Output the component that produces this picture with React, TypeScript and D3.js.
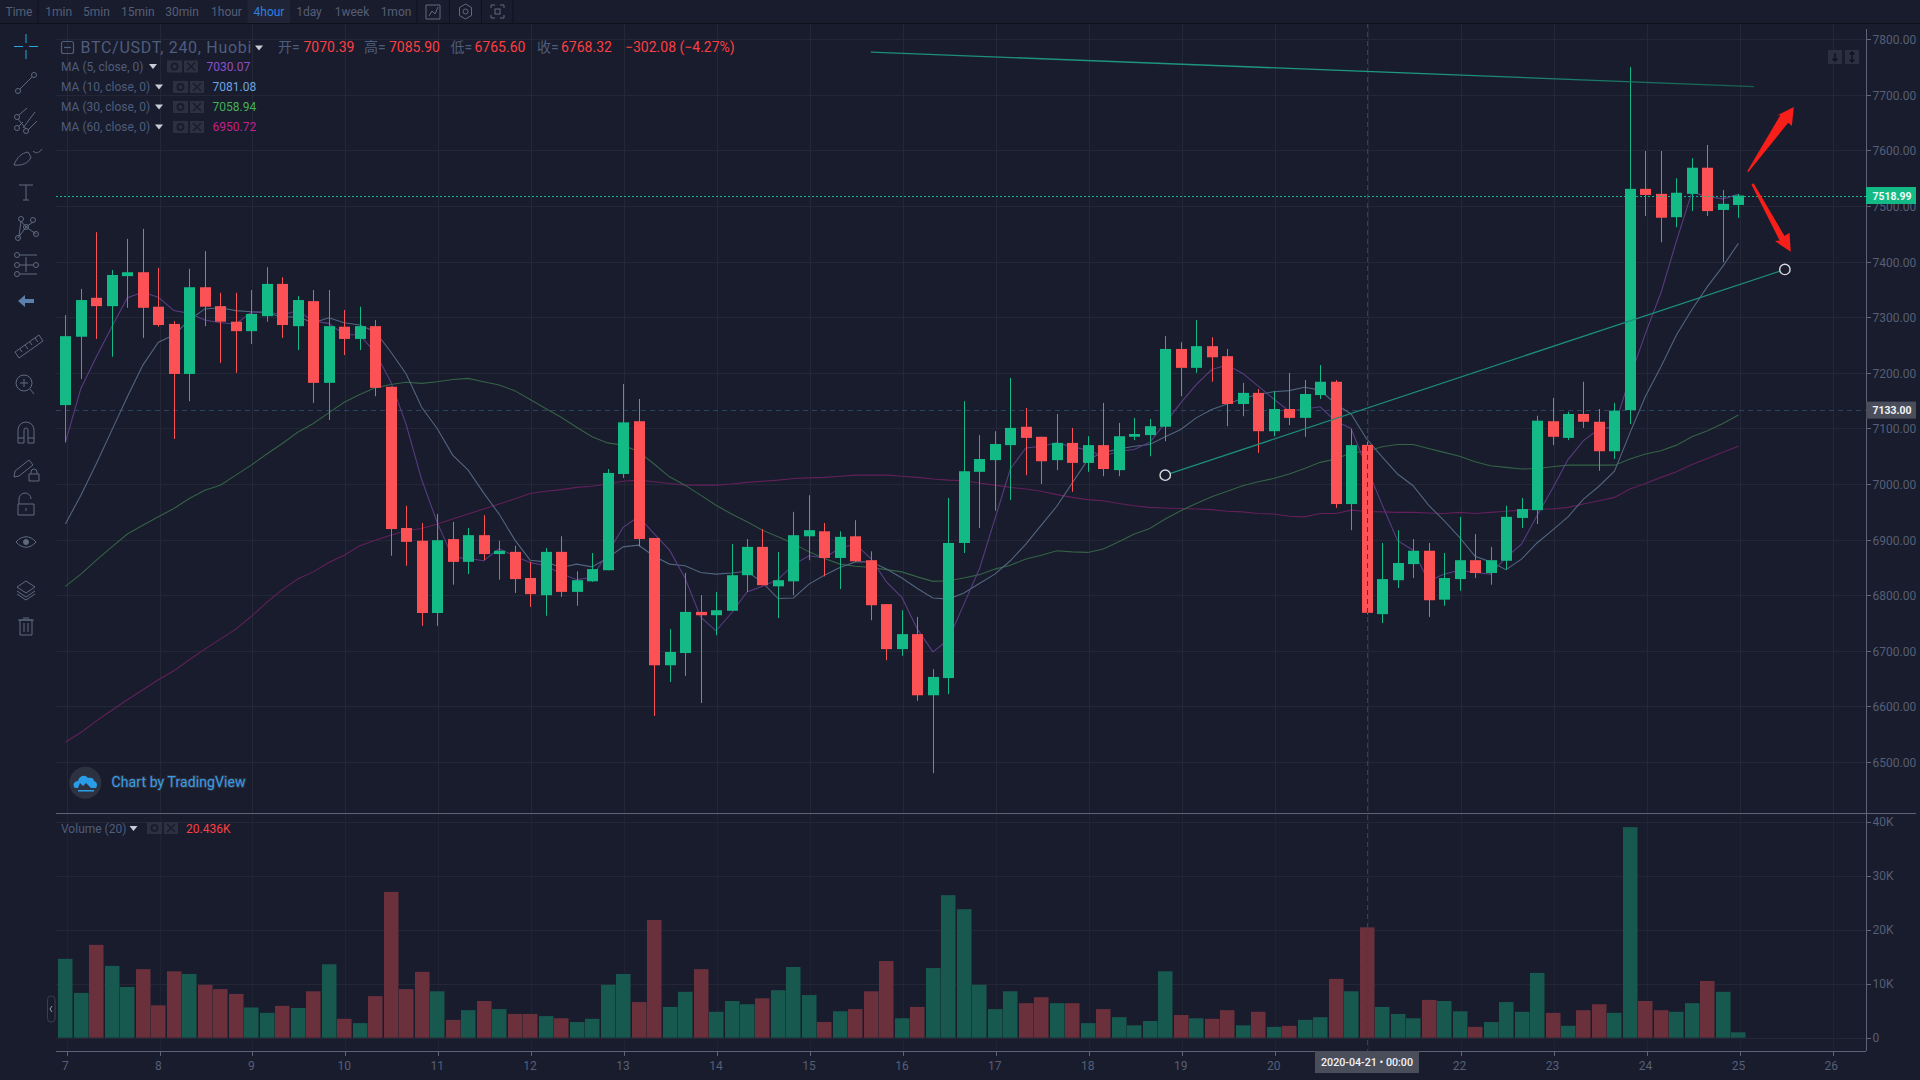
import React from "react";
import * as d3 from "d3";

const opens = [7142,7265,7335,7320,7374,7381,7319,7288,7198,7354,7320,7292,7275,7302,7360,7284,7329,7182,7283,7261,7284,7175,6921,6898,6768,6901,6860,6908,6874,6878,6831,6800,6878,6806,6825,6845,7018,7113,6903,6674,6696,6770,6764,6772,6836,6887,6816,6825,6906,6915,6867,6906,6863,6784,6703,6730,6620,6651,6894,7022,7043,7070,7103,7085,7043,7074,7038,7070,7025,7085,7088,7103,7243,7209,7248,7230,7144,7164,7095,7135,7119,7160,7184,6964,7070.39,6766,6827,6856,6880,6792,6829,6863,6840,6862,6939,6953,7113,7083,7126,7112,7059,7133,7531,7522,7480,7522,7569,7493,7502];
const closes = [7266,7331,7320,7376,7381,7317,7286,7198,7354,7319,7292,7275,7306,7360,7286,7331,7182,7284,7261,7284,7173,6919,6896,6768,6899,6860,6908,6874,6880,6829,6802,6878,6806,6827,6847,7020,7111,6901,6674,6698,6770,6764,6773,6836,6887,6818,6827,6908,6917,6867,6905,6861,6782,6703,6730,6620,6653,6894,7023,7045,7072,7101,7083,7041,7074,7038,7070,7027,7086,7090,7104,7243,7209,7248,7228,7144,7164,7095,7135,7119,7162,7184,6964,7070,6768.32,6829,6858,6880,6791,6831,6863,6840,6863,6941,6955,7114,7085,7126,7112,7059,7132,7531,7520,7479,7524,7569,7491,7504,7518.99];
const highs = [7304,7351,7453,7385,7441,7459,7389,7293,7387,7419,7344,7344,7349,7390,7372,7338,7349,7349,7313,7319,7295,7175,6961,6930,6946,6932,6921,6944,6898,6889,6860,6885,6906,6843,6876,7027,7180,7153,6903,6739,6840,6800,6806,6892,6901,6919,6878,6950,6980,6930,6915,6935,6879,6784,6773,6761,6667,6975,7149,7088,7095,7191,7137,7085,7126,7101,7086,7146,7110,7119,7117,7266,7255,7295,7264,7243,7182,7171,7167,7200,7187,7214,7187,7099,7085.9,6894,6917,6901,6894,6876,6941,6910,6887,6961,6975,7123,7155,7130,7184,7135,7146,7750,7599,7599,7550,7586,7610,7529,7522];
const lows = [7075,7189,7261,7229,7317,7263,7283,7081,7149,7284,7218,7200,7252,7292,7263,7241,7146,7115,7232,7241,7158,6871,6853,6745,6745,6819,6838,6863,6828,6804,6779,6763,6797,6781,6824,6845,7011,6888,6583,6644,6655,6606,6728,6772,6806,6818,6759,6800,6863,6834,6811,6860,6755,6683,6691,6610,6480,6622,6876,6921,6952,6971,7016,7000,7025,6986,7022,7014,7014,7079,7050,7077,7158,7200,7184,7104,7122,7056,7086,7106,7085,7153,6957,6917,6765.6,6750,6813,6831,6761,6781,6808,6831,6819,6846,6921,6928,7070,7079,7101,7024,7045,7108,7482,7435,7462,7491,7482,7399,7479];
const ma5 = [7075,7172,7229,7283,7335,7345,7336,7312,7307,7295,7290,7288,7309,7310,7304,7312,7293,7289,7269,7268,7237,7184,7107,7008,6931,6868,6866,6862,6884,6870,6859,6853,6839,6828,6832,6876,6922,6941,6911,6881,6831,6761,6736,6768,6806,6816,6828,6855,6871,6867,6885,6892,6866,6824,6796,6739,6698,6720,6784,6847,6937,7027,7065,7068,7074,7067,7061,7050,7059,7062,7075,7110,7146,7179,7206,7214,7199,7176,7153,7131,7135,7139,7113,7100,7030.07,6963,6898,6881,6825,6838,6845,6841,6838,6868,6892,6943,6992,7044,7078,7099,7103,7192,7271,7344,7437,7525,7517,7513,7521];
const ma10 = [6928,6980,7037,7097,7157,7214,7255,7268,7295,7315,7317,7312,7310,7308,7300,7301,7290,7299,7290,7286,7274,7238,7198,7138,7100,7052,7025,6984,6946,6900,6863,6860,6850,6856,6851,6867,6887,6890,6870,6856,6853,6841,6838,6840,6843,6823,6794,6795,6820,6836,6850,6860,6860,6847,6831,6812,6795,6793,6804,6821,6838,6862,6892,6926,6960,7002,7044,7057,7063,7068,7071,7085,7098,7119,7134,7144,7154,7161,7166,7168,7174,7169,7144,7126,7081.08,7049,7018,6997,6962,6934,6904,6870,6860,6846,6865,6894,6917,6941,6973,6996,7023,7092,7158,7211,7268,7314,7355,7392,7433];
const ma30 = [6816,6838,6863,6887,6910,6926,6941,6956,6974,6989,6998,7016,7034,7054,7073,7093,7109,7128,7147,7161,7173,7179,7183,7181,7184,7188,7190,7184,7178,7168,7152,7136,7120,7102,7085,7074,7070,7058,7036,7013,6998,6980,6962,6946,6932,6917,6905,6893,6878,6866,6856,6852,6850,6846,6842,6833,6825,6826,6831,6837,6847,6854,6865,6872,6880,6878,6877,6883,6896,6910,6920,6937,6952,6965,6977,6987,6997,7004,7010,7018,7028,7039,7045,7056,7058.94,7067,7071,7071,7064,7057,7050,7040,7033,7030,7027,7028,7031,7034,7034,7034,7034,7045,7054,7060,7070,7085,7096,7109,7124];
const ma60 = [6536,6553,6574,6593,6612,6630,6648,6664,6684,6703,6721,6739,6762,6787,6810,6829,6842,6859,6872,6889,6899,6908,6916,6920,6928,6937,6946,6955,6964,6973,6983,6987,6990,6994,6996,7000,7005,7007,7004,7001,6998,6998,6998,7000,7003,7005,7007,7010,7011,7012,7014,7016,7016,7016,7014,7012,7009,7007,7006,7002,6998,6994,6991,6987,6981,6976,6972,6970,6965,6961,6958,6957,6956,6955,6954,6951,6950,6947,6946,6942,6941,6947,6947,6953,6950.72,6950,6949,6949,6948,6947,6949,6947,6949,6951,6953,6955,6955,6958,6964,6970,6976,6991,7001,7012,7022,7035,7046,7057,7068];
const volumes = [14.6,8.3,17.2,13.3,9.4,12.7,6,12.3,11.8,9.8,9,8.1,5.6,4.6,5.9,5.5,8.6,13.6,3.5,2.7,7.7,27,9,12.2,8.6,3.3,5.1,6.8,5.3,4.4,4.4,4,3.6,2.9,3.5,9.8,11.8,6.6,21.8,5.7,8.5,12.7,4.8,6.8,6.2,7.3,8.8,13.1,7.9,2.9,4.9,5.3,8.6,14.2,3.6,5.7,12.9,26.4,23.8,9.8,5.3,8.6,6.4,7.5,6.4,6.4,2.7,5.3,3.8,2.3,3.1,12.3,4.2,3.6,3.5,5.1,2.3,4.8,2,2.2,3.3,3.8,10.9,8.6,20.436,5.7,4.4,3.6,7,6.8,4.9,2,2.9,6.6,4.8,12,4.6,2.2,5.1,6.2,4.6,39,6.8,5.1,4.8,6.4,10.5,8.5,1];
const priceTicks = [7800,7700,7600,7500,7400,7300,7200,7100,7000,6900,6800,6700,6600,6500];
const volumeTicks = [0,10,20,30,40];
const dayTicks = [7,8,9,10,11,12,13,14,15,16,17,18,19,20,21,22,23,24,25,26];
const hiddenDay = 21;
const intervals = [["Time",19],["1min",58.7],["5min",96.4],["15min",137.8],["30min",182],["1hour",226.5],["4hour",269],["1day",309],["1week",352],["1mon",396]] as const;
const maLegend = [
  { label: "MA (5, close, 0)", value: "7030.07", color: "#8e50c8" },
  { label: "MA (10, close, 0)", value: "7081.08", color: "#6fa3e0" },
  { label: "MA (30, close, 0)", value: "7058.94", color: "#45b058" },
  { label: "MA (60, close, 0)", value: "6950.72", color: "#c4208c" },
];
const lastPrice = 7518.99;
const crossPrice = 7133;
const crossIndex = 84;
const trendTop: [number, number][] = [[52, 7777], [109, 7715]];
const trendUp: [number, number][] = [[71, 7016], [111, 7386]];
const arrowUp: [number, number][] = [[108.58,7563],[110.72,7664],[110.48,7663],[111.58,7678],[111.45,7644],[111.22,7650],[108.63,7561]];
const arrowDown: [number, number][] = [[108.98,7541],[110.98,7446],[111.3,7452],[111.38,7418],[110.36,7437],[110.66,7438],[108.84,7539]];

const W = 1920, H = 1080;
const plotL = 56, axisX = 1866, topY = 23, sepY = 813, botY = 1051;
const BG = "#181c2d", GRID = "#242836", AXIS = "#5d6478", TXT = "#565f76", LEG = "#4f5d7c";
const UP = "#13ba85", DOWN = "#fc5255";
const FONT = "Roboto, 'Noto Sans CJK SC', sans-serif";

const x = d3.scaleLinear().domain([0, 108]).range([65.4, 1738.4]);
const y = d3.scaleLinear().domain([6500, 7800]).range([762, 39.3]);
const v = d3.scaleLinear().domain([0, 40]).range([1037.7, 821.7]);
const dayX = (d: number) => x((d - 7) * 6) + 1.2;
const lineGen = d3.line<number>().x((_, i) => x(i)).y((p) => y(p));
const pts = (a: [number, number][]) => a.map(([i, p]) => `${x(i)},${y(p)}`).join(" ");

const MAS = [
  { d: ma60, c: "#63205a" },
  { d: ma30, c: "#346345" },
  { d: ma10, c: "#52657f" },
  { d: ma5, c: "#593c80" },
];

function Caret({ cx, cy }: { cx: number; cy: number }) {
  return <path d={`M${cx - 4},${cy - 2}h8l-4,5z`} fill="#c8ccd4" />;
}
function LegendBtns({ x0, cy, x2 }: { x0: number; cy: number; x2: number }) {
  return (
    <g>
      <rect x={x0} y={cy - 6} width={15} height={12} fill="#2c3140" />
      <circle cx={x0 + 7.5} cy={cy} r={3} fill="none" stroke="#181c2d" strokeWidth={2} />
      <rect x={x2} y={cy - 6} width={14} height={12} fill="#2c3140" />
      <path d={`M${x2 + 3},${cy - 4}l8,8M${x2 + 11},${cy - 4}l-8,8`} stroke="#181c2d" strokeWidth={1.5} />
    </g>
  );
}

function Icons() {
  const s = { fill: "none", stroke: "#5e6a7e", strokeWidth: 1 } as const;
  const cx = 26;
  return (
    <g>
      <path d={`M${cx},34v9M${cx},50v9M${cx - 12},46.5h9M${cx + 3},46.5h9`} stroke="#27a5dc" strokeWidth={1} />
      <g {...s}>
        <circle cx={18} cy={91} r={2.5} /><circle cx={34} cy={75} r={2.5} /><path d="M20,89L32,77" />
        <circle cx={17} cy={128} r={2.5} /><circle cx={26} cy={131} r={2.5} /><circle cx={17} cy={117} r={2.5} /><path d="M19,115l8,-7M23,128l12,-16M28,130l9,-9M19,126l4,-4M18,119l8,10" />
        <path d="M14,165c3,-8 8,-12 14,-13l3,5c-2,6 -9,9 -17,8zM33,151c3,3 6,2 9,-2" />
        <path d="M19,185h14M26,185v15M23,200h6" />
        <circle cx={18} cy={238} r={2.5} /><circle cx={21} cy={219} r={2.5} /><circle cx={33} cy={220} r={2.5} /><circle cx={26} cy={227} r={2.5} /><circle cx={36} cy={234} r={2.5} /><path d="M19,236l2,-15M21,221l5,6M33,222l-7,5l10,7M26,227l-8,11" />
        <circle cx={17} cy={255} r={2.5} /><circle cx={17} cy={265} r={2.5} /><circle cx={17} cy={274} r={2.5} /><circle cx={36} cy={265} r={2.5} /><path d="M20,255h17M20,265h13M20,274h17M26,257v15" />
        <path d="M15,352l24,-17l4,6l-24,17zM20,349l2,3M25,345l3,4M30,342l2,3M35,338l3,4" />
        <circle cx={24} cy={383} r={8} /><path d="M30,389l4,5M20,383h8M24,379v8" />
        <path d="M18,443v-13a8,8 0 0 1 16,0v13h-6v-13a2,2 0 0 0 -4,0v13zM18,438h6M28,438h6" />
        <path d="M15,471l14,-11l4,5l-14,11l-5,1zM31,474v-2a3,3 0 0 1 6,0v2M29,474h10v7h-10z" />
        <path d="M19,504v-5a6,6 0 0 1 12,0M18,504h16v11h-16z" /><path d="M26,508v3" />
        <path d="M16,542c6,-7 14,-7 20,0c-6,7 -14,7 -20,0z" /><circle cx={26} cy={542} r={2.5} fill="#5e6a7e" />
        <path d="M26,581l9,6l-9,6l-9,-6zM17,591l9,6l9,-6M17,594l9,6l9,-6" />
        <path d="M20,620h12v15h-12zM18,620h16M23,618h6M24,623v9M28,623v9" />
      </g>
      <path d="M18,301l7,-6v4h9v4h-9v4z" fill="#5a7fa8" />
    </g>
  );
}

export default function App() {
  const legendRows = [66.5, 87, 107, 127];
  return (
    <div style={{ position: "fixed", left: 0, top: 0, width: W, height: H, background: BG }}>
      <svg width={W} height={H} viewBox={`0 0 ${W} ${H}`} style={{ display: "block", fontFamily: FONT }}>
        <defs>
          <linearGradient id="trendGrad" x1="0" x2="1" y1="0" y2="0">
            <stop offset="0" stopColor="#1c8d7a" />
            <stop offset="0.6" stopColor="#1e9a83" />
            <stop offset="1" stopColor="#17604f" />
          </linearGradient>
        </defs>
        <rect width={W} height={H} fill={BG} />

        {priceTicks.map((p) => (
          <line key={p} x1={plotL} x2={axisX} y1={Math.round(y(p)) + 0.5} y2={Math.round(y(p)) + 0.5} stroke={GRID} />
        ))}
        {volumeTicks.map((t) => (
          <line key={t} x1={plotL} x2={axisX} y1={Math.round(v(t)) + 0.5} y2={Math.round(v(t)) + 0.5} stroke={GRID} />
        ))}
        {dayTicks.map((d) => (
          <g key={d}>
            <line x1={Math.round(dayX(d)) + 0.5} x2={Math.round(dayX(d)) + 0.5} y1={topY} y2={sepY} stroke={GRID} />
            <line x1={Math.round(dayX(d)) + 0.5} x2={Math.round(dayX(d)) + 0.5} y1={sepY} y2={botY} stroke={GRID} strokeOpacity={0.65} />
          </g>
        ))}

        <line x1={plotL} x2={axisX} y1={Math.round(y(crossPrice)) + 0.5} y2={Math.round(y(crossPrice)) + 0.5} stroke="#2a4363" strokeDasharray="5 4" />

        {MAS.map((m) => (
          <path key={m.c} d={lineGen(m.d) || ""} fill="none" stroke={m.c} strokeWidth={1.1} />
        ))}

        {closes.map((c, i) => {
          const col = c >= opens[i] ? UP : DOWN;
          const px = Math.round(x(i));
          const t = Math.max(opens[i], c), b = Math.min(opens[i], c);
          return (
            <g key={i}>
              <rect x={px} y={y(highs[i])} width={1} height={y(lows[i]) - y(highs[i])} fill={col} />
              <rect x={px - 5} y={y(t)} width={11} height={Math.max(1, y(b) - y(t))} fill={col} />
            </g>
          );
        })}

        {volumes.map((val, i) => {
          const up = closes[i] >= opens[i];
          const px = Math.round(x(i));
          return (
            <rect key={i} x={px - 7} y={v(val)} width={14.5} height={v(0) - v(val)} fill={up ? "#17584f" : "#6a303c"} />
          );
        })}

        <line x1={plotL} x2={axisX} y1={Math.round(y(lastPrice)) + 0.5} y2={Math.round(y(lastPrice)) + 0.5} stroke={UP} strokeDasharray="2 2" />

        <line x1={Math.round(x(crossIndex)) + 0.5} x2={Math.round(x(crossIndex)) + 0.5} y1={topY} y2={botY} stroke="#2a4363" strokeDasharray="5 4" />

        <line x1={x(trendTop[0][0])} y1={y(trendTop[0][1])} x2={x(trendTop[1][0])} y2={y(trendTop[1][1])} stroke="url(#trendGrad)" strokeWidth={1.3} />
        <line x1={x(trendUp[0][0])} y1={y(trendUp[0][1])} x2={x(trendUp[1][0])} y2={y(trendUp[1][1])} stroke="#1c8d7a" strokeWidth={1.3} />
        {trendUp.map(([i, p]) => (
          <circle key={i} cx={x(i)} cy={y(p)} r={5.2} fill={BG} stroke="#d8dadf" strokeWidth={1.4} />
        ))}
        <polygon points={pts(arrowUp)} fill="#f81f1a" />
        <polygon points={pts(arrowDown)} fill="#f81f1a" />

        <rect x={0} y={0} width={W} height={topY} fill="#181c2d" />
        <line x1={0} x2={W} y1={23.5} y2={23.5} stroke="#0e111c" strokeWidth={1} />
        <rect x={247.5} y={0} width={42.5} height={23} fill="#1f2537" />
        {[38, 417, 449.5, 481.5, 513].map((sx) => (
          <line key={sx} x1={sx} x2={sx} y1={0} y2={23} stroke="#0e111c" />
        ))}
        {intervals.map(([label, cx]) => (
          <text key={label} x={cx} y={16} fontSize={12} textAnchor="middle" fill={label === "4hour" ? "#2e7fe0" : TXT}>{label}</text>
        ))}
        <g fill="none" stroke="#5e6a7e" strokeWidth={1}>
          <path d="M426,5h14v14h-14zM429,16l3,-5l3,3l3,-7" />
          <path d="M465.5,4l6,3.5v8l-6,3.5l-6,-3.5v-8z" /><circle cx={465.5} cy={11.5} r={2.5} />
          <path d="M491,8v-3h4M500,5h4v3M504,15v3h-4M495,18h-4v-3" /><rect x={495} y={9} width={5} height={5} />
        </g>

        <line x1={axisX + 0.5} x2={axisX + 0.5} y1={topY + 6} y2={botY} stroke={AXIS} />
        <line x1={plotL} x2={1916} y1={813.5} y2={813.5} stroke={AXIS} />
        <line x1={plotL} x2={axisX} y1={1051.5} y2={1051.5} stroke={AXIS} />

        {priceTicks.map((p) => (
          <g key={p}>
            <line x1={axisX} x2={axisX + 5} y1={Math.round(y(p)) + 0.5} y2={Math.round(y(p)) + 0.5} stroke={AXIS} />
            <text x={axisX + 6.5} y={y(p) + 5} fontSize={12} fill={TXT}>{d3.format(".2f")(p)}</text>
          </g>
        ))}
        {volumeTicks.map((t) => (
          <g key={t}>
            <line x1={axisX} x2={axisX + 5} y1={Math.round(v(t)) + 0.5} y2={Math.round(v(t)) + 0.5} stroke={AXIS} />
            <text x={axisX + 6.5} y={v(t) + 4.5} fontSize={12} fill={TXT}>{t === 0 ? "0" : `${t}K`}</text>
          </g>
        ))}
        <rect x={axisX} y={y(lastPrice) - 8.5} width={50} height={17} fill={UP} />
        <text x={axisX + 6.5} y={y(lastPrice) + 4.3} fontSize={11.5} fontWeight={700} fill="#eefaf5" textLength={39} lengthAdjust="spacingAndGlyphs">{d3.format(".2f")(lastPrice)}</text>
        <rect x={axisX} y={y(crossPrice) - 8.5} width={50} height={17} fill="#4a4e5b" />
        <text x={axisX + 6.5} y={y(crossPrice) + 4.3} fontSize={11.5} fontWeight={700} fill="#f2f3f5" textLength={39} lengthAdjust="spacingAndGlyphs">{d3.format(".2f")(crossPrice)}</text>

        {dayTicks.map((d) => (
          <g key={d}>
            <line x1={Math.round(dayX(d)) + 0.5} x2={Math.round(dayX(d)) + 0.5} y1={botY} y2={botY + 5} stroke={AXIS} />
            {d !== hiddenDay && <text x={dayX(d) - 1.2} y={1069.5} fontSize={12} textAnchor="middle" fill={TXT}>{d}</text>}
          </g>
        ))}
        <rect x={1315} y={1051} width={104} height={22} fill="#4a4e5b" />
        <text x={1367} y={1066} fontSize={11.5} fontWeight={500} textAnchor="middle" fill="#f2f3f5" textLength={92} lengthAdjust="spacingAndGlyphs">2020-04-21 • 00:00</text>

        <rect x={61.5} y={41.5} width={12} height={12} rx={2} fill="none" stroke={LEG} strokeWidth={1.2} />
        <line x1={64} x2={71} y1={47.5} y2={47.5} stroke={LEG} strokeWidth={1.2} />
        <text x={80.5} y={52.5} fontSize={16} letterSpacing={0.7} fill={LEG}>BTC/USDT, 240, Huobi</text>
        <Caret cx={259} cy={47.5} />
        {([["开=", 278, "7070.39", 303.5], ["高=", 364, "7085.90", 389], ["低=", 450.5, "6765.60", 474.5], ["收=", 537, "6768.32", 561]] as const).map(([a, ax, b, bx]) => (
          <g key={a}>
            <text x={ax} y={52} fontSize={14} fill={LEG}>{a}</text>
            <text x={bx} y={52} fontSize={14} fill="#fc3f42">{b}</text>
          </g>
        ))}
        <text x={625} y={52} fontSize={14} fill="#fc3f42">−302.08 (−4.27%)</text>

        {maLegend.map((m, i) => {
          const d = i === 0 ? 0 : 6;
          const cy = legendRows[i];
          return (
            <g key={m.label}>
              <text x={61} y={cy + 4.2} fontSize={12} fill={LEG}>{m.label}</text>
              <Caret cx={153 + d} cy={cy - 0.5} />
              <LegendBtns x0={167 + d} x2={184 + d} cy={cy} />
              <text x={206.5 + d} y={cy + 4.2} fontSize={12} fill={m.color}>{m.value}</text>
            </g>
          );
        })}

        <text x={61} y={832.5} fontSize={12} fill={LEG}>Volume (20)</text>
        <Caret cx={133.5} cy={828} />
        <LegendBtns x0={147} x2={164} cy={828} />
        <text x={186} y={832.5} fontSize={12} fill="#fc3f42">20.436K</text>

        <rect x={47.5} y={996} width={7.5} height={26} rx={3.5} fill={BG} stroke="#3a3f4d" />
        <path d="M52,1006l-2,3l2,3" fill="none" stroke="#9aa0ad" />

        <rect x={1828} y={50} width={14} height={14} fill="#2b3040" />
        <path d="M1835,53v8M1832.5,58.5l2.5,2.5l2.5,-2.5" fill="none" stroke="#10131f" strokeWidth={1.5} />
        <rect x={1845} y={50} width={14} height={14} fill="#2b3040" />
        <path d="M1852,52v10M1849.5,54.5l2.5,-2.5l2.5,2.5M1849.5,59.5l2.5,2.5l2.5,-2.5" fill="none" stroke="#10131f" strokeWidth={1.5} />

        <circle cx={85.3} cy={782.7} r={16} fill="#2d3240" />
        <path d="M75,788c-3,-3 -1,-7 3,-7c1,-5 7,-7 10,-3c3,-1 6,0 6,3c3,1 4,4 2,7h-5l-5,-5l-3,3l-3,-3l-2,5zM78,790h16v1.5h-16z" fill="#2a9de8" />
        <text x={111.5} y={787} fontSize={14} fill="#379ee6" stroke="#2d3240" strokeWidth={2} paintOrder="stroke" textLength={134}>Chart by TradingView</text>

        <Icons />
      </svg>
    </div>
  );
}
